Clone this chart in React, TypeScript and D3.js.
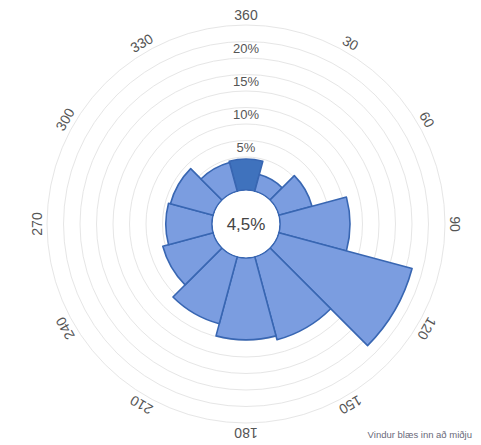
import * as d3 from "d3";

const width = 481;
const height = 445;
const cx = 246;
const cy = 224;

// direction sectors (degrees) and frequency (%)
const directions = [0, 30, 60, 90, 120, 150, 180, 210, 240, 270, 300, 330];
const frequency = [4.7, 2.6, 5.2, 10.6, 20.9, 13.0, 12.4, 10.5, 7.9, 7.0, 6.7, 4.5];
const calm = "4,5%";

const angleLabels = ["360", "30", "60", "90", "120", "150", "180", "210", "240", "270", "300", "330"];
const ringValues = [2.5, 5, 7.5, 10, 12.5, 15, 17.5, 20, 22.5, 25];
const percentTicks = [5, 10, 15, 20];
const footnote = "Vindur blæs inn að miðju";

const font = "'Liberation Sans', Arial, sans-serif";

export default function App() {
  const r = d3.scaleLinear().domain([0, 25]).range([34, 199]);
  const toRad = (deg: number) => (deg * Math.PI) / 180;

  const arc = d3
    .arc<{ dir: number; value: number }>()
    .innerRadius(r(0))
    .outerRadius((d) => r(d.value))
    .startAngle((d) => toRad(d.dir - 15))
    .endAngle((d) => toRad(d.dir + 15));

  const sectors = directions.map((dir, i) => ({ dir, value: frequency[i] }));

  return (
    <div style={{ position: "absolute", left: 0, top: 0 }}>
      <svg width={width} height={height} style={{ display: "block", background: "#fff" }}>
        <g transform={`translate(${cx},${cy})`}>
          {ringValues.map((v) => (
            <circle key={v} r={r(v)} fill="none" stroke="#e6e6e6" strokeWidth={1} />
          ))}

          {sectors.map((d) => (
            <path
              key={d.dir}
              d={arc(d) ?? ""}
              fill={d.dir === 0 ? "#3f72bd" : "#7b9de0"}
              stroke="#3866b2"
              strokeWidth={1.6}
              strokeLinejoin="round"
            />
          ))}

          <circle r={r(0) - 0.8} fill="#fff" />
          <text
            y={6}
            textAnchor="middle"
            fontFamily={font}
            fontSize={17}
            fill="#444"
          >
            {calm}
          </text>

          {percentTicks.map((v) => (
            <text
              key={v}
              y={-(r(v) + 5)}
              textAnchor="middle"
              fontFamily={font}
              fontSize={13}
              fill="#555"
            >
              {v}%
            </text>
          ))}

          {directions.map((dir, i) => (
            <text
              key={dir}
              transform={`rotate(${dir}) translate(0,${-209})`}
              textAnchor="middle"
              dy={5}
              fontFamily={font}
              fontSize={14}
              fill="#555"
            >
              {angleLabels[i]}
            </text>
          ))}
        </g>

        <text
          x={472}
          y={438}
          textAnchor="end"
          fontFamily={font}
          fontSize={9.5}
          fill="#6a6a7a"
        >
          {footnote}
        </text>
      </svg>
    </div>
  );
}
